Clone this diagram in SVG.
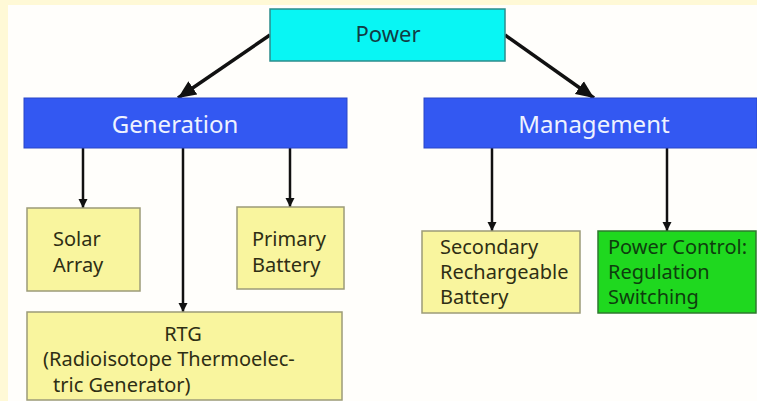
<svg xmlns="http://www.w3.org/2000/svg" width="757" height="401" viewBox="0 0 757 401">
  <style>
    text { font-family: "Noto Sans", "DejaVu Sans", sans-serif; }
    .yel { fill: #F9F59E; stroke: #9C9B78; stroke-width: 1.5; }
    .blue { fill: #3358F2; stroke: #2A46C8; stroke-width: 1; }
    .dark { fill: #2E2E14; font-size: 20px; }
    .wt { fill: #EEF2FF; font-size: 24px; text-anchor: middle; }
    .conn { stroke: #111; fill: none; }
  </style>
  <defs>
    <marker id="big" viewBox="0 0 16 14" refX="16" refY="7" markerWidth="18" markerHeight="16" markerUnits="userSpaceOnUse" orient="auto">
      <path d="M0,0 L16,7 L0,14 z" fill="#111"/>
    </marker>
    <marker id="small" viewBox="0 0 10 10" refX="10" refY="5" markerWidth="9" markerHeight="11" markerUnits="userSpaceOnUse" orient="auto">
      <path d="M0,0 L10,5 L0,10 z" fill="#111"/>
    </marker>
  </defs>
  <rect x="0" y="0" width="757" height="401" fill="#FFFEFB"/>
  <rect x="0" y="0" width="757" height="5" fill="#FFF9D6"/>
  <rect x="0" y="0" width="8" height="401" fill="#FFF9D6"/>

  <g id="connectors">
    <path class="conn" stroke-width="3.5" d="M270,35 L178,98" marker-end="url(#big)"/>
    <path class="conn" stroke-width="3.5" d="M505,35 L594,98" marker-end="url(#big)"/>
    <path class="conn" stroke-width="2.5" d="M83,148 L83,208" marker-end="url(#small)"/>
    <path class="conn" stroke-width="2.5" d="M183,148 L183,312" marker-end="url(#small)"/>
    <path class="conn" stroke-width="2.5" d="M290,148 L290,207" marker-end="url(#small)"/>
    <path class="conn" stroke-width="2.5" d="M492,148 L492,231" marker-end="url(#small)"/>
    <path class="conn" stroke-width="2.5" d="M667,148 L667,231" marker-end="url(#small)"/>
  </g>

  <g id="power">
    <rect x="270" y="9" width="235" height="52" fill="#08F6F4" stroke="#2C8C8C" stroke-width="1.5"/>
    <text x="388" y="42" font-size="22" fill="#123C44" text-anchor="middle">Power</text>
  </g>
  <g id="generation">
    <rect class="blue" x="24" y="98" width="323" height="50"/>
    <text class="wt" x="175" y="133">Generation</text>
  </g>
  <g id="management">
    <rect class="blue" x="424" y="98" width="333" height="50"/>
    <text class="wt" x="594" y="133">Management</text>
  </g>
  <g id="solar">
    <rect class="yel" x="27" y="208" width="113" height="83"/>
    <text class="dark" x="53" y="246">Solar</text>
    <text class="dark" x="53" y="272">Array</text>
  </g>
  <g id="primary">
    <rect class="yel" x="237" y="207" width="107" height="82"/>
    <text class="dark" x="252" y="246">Primary</text>
    <text class="dark" x="252" y="272">Battery</text>
  </g>
  <g id="rtg">
    <rect class="yel" x="27" y="312" width="315" height="88"/>
    <text class="dark" x="183" y="341" text-anchor="middle">RTG</text>
    <text class="dark" x="43" y="366">(Radioisotope Thermoelec-</text>
    <text class="dark" x="53" y="392">tric Generator)</text>
  </g>
  <g id="secondary">
    <rect class="yel" x="422" y="231" width="158" height="82"/>
    <text class="dark" x="440" y="254">Secondary</text>
    <text class="dark" x="440" y="279">Rechargeable</text>
    <text class="dark" x="440" y="304">Battery</text>
  </g>
  <g id="powercontrol">
    <rect x="598" y="231" width="158" height="82" fill="#1FD81F" stroke="#2E7A2E" stroke-width="1.5"/>
    <text x="608" y="254" font-size="20" fill="#0E3E0E">Power Control:</text>
    <text x="608" y="279" font-size="20" fill="#0E3E0E">Regulation</text>
    <text x="608" y="304" font-size="20" fill="#0E3E0E">Switching</text>
  </g>
</svg>
